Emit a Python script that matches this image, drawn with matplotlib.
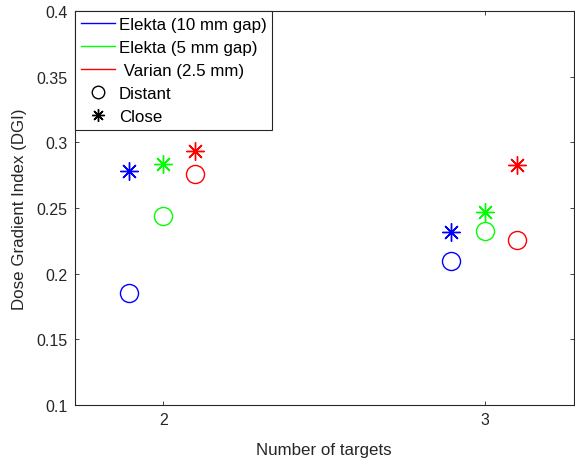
import numpy as np
import matplotlib.pyplot as plt
from matplotlib.lines import Line2D

plt.rcParams['font.family'] = ['Liberation Sans', 'DejaVu Sans']

# Data
targets = [2, 3]
offsets = [-0.105, 0.0, 0.1]
systems = ["Elekta (10 mm gap)", "Elekta (5 mm gap)", " Varian (2.5 mm)"]
colors = ["#0000ff", "#00ff00", "#ff0000"]
dgi_distant = [[0.1851, 0.2093], [0.2441, 0.2322], [0.2758, 0.2255]]
dgi_close = [[0.2784, 0.2314], [0.2835, 0.2466], [0.2931, 0.2827]]

dark = "#262626"

fig = plt.figure(figsize=(5.75, 4.64), dpi=100)
ax = fig.add_axes([0.130, 0.1256, 0.8677, 0.8484])

star = (8, 2, 0)
for i, name in enumerate(systems):
    xs = np.array(targets) + offsets[i]
    ax.plot(xs, dgi_distant[i], linestyle="none", marker="o", markersize=13,
            markerfacecolor="none", markeredgecolor=colors[i], markeredgewidth=1.0)
    ax.plot(xs, dgi_close[i], linestyle="none", marker=star, markersize=13,
            markeredgecolor=colors[i], color=colors[i], markeredgewidth=1.0)

ax.set_xlim(1.725, 3.275)
ax.set_ylim(0.1, 0.4)
ax.set_xticks(targets)
ax.set_yticks([0.1, 0.15, 0.2, 0.25, 0.3, 0.35, 0.4])
ax.set_yticklabels(["0.1", "0.15", "0.2", "0.25", "0.3", "0.35", "0.4"])
ax.tick_params(direction="in", length=3, width=0.6, top=True, right=True,
               labelsize=11.5, colors=dark, pad=5)
for sp in ax.spines.values():
    sp.set_color(dark)
    sp.set_linewidth(0.8)

ax.set_xlabel("Number of targets", fontsize=12.2, color=dark, labelpad=11)
ax.set_ylabel("Dose Gradient Index (DGI)", fontsize=12.2, color=dark, labelpad=7)

# Legend
handles = [Line2D([0, 1], [0, 0], color=c, linewidth=1.0) for c in colors]
handles.append(Line2D([], [], linestyle="none", marker="o", markersize=9,
                      markerfacecolor="none", markeredgecolor="black"))
handles.append(Line2D([], [], linestyle="none", marker=star, markersize=9,
                      color="black", markeredgewidth=1.0))
labels = systems + ["Distant", "Close"]
leg = ax.legend(handles, labels, loc="upper left", bbox_to_anchor=(0, 1),
                borderaxespad=0, fancybox=False, framealpha=1, fontsize=12.2,
                handlelength=2.0, handletextpad=0.25, labelspacing=0.47,
                borderpad=0.35)
leg.get_frame().set_edgecolor(dark)
leg.get_frame().set_linewidth(0.8)

fig.savefig("out.png", dpi=100)
